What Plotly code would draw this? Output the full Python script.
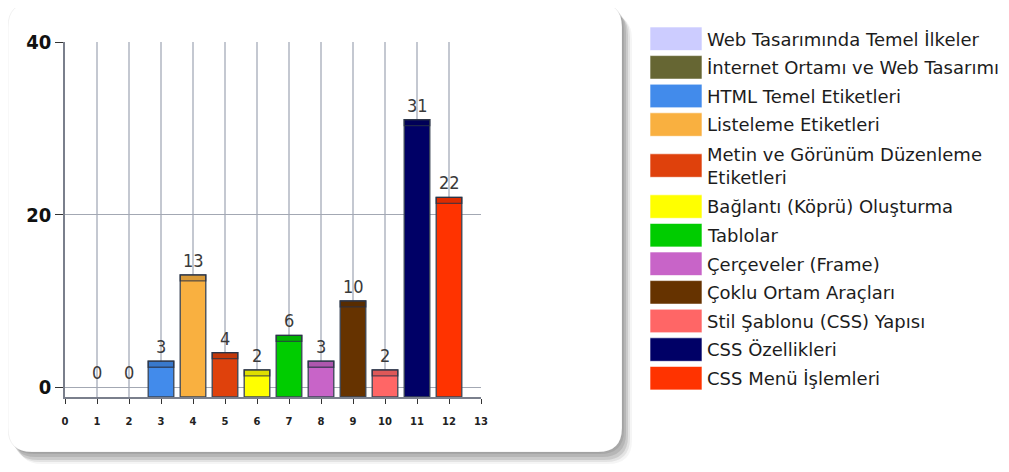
import plotly.graph_objects as go

# Konu başlıkları ve soru sayıları
konular = [
    "Web Tasarımında Temel İlkeler",
    "İnternet Ortamı ve Web Tasarımı",
    "HTML Temel Etiketleri",
    "Listeleme Etiketleri",
    "Metin ve Görünüm Düzenleme<br>Etiketleri",
    "Bağlantı (Köprü) Oluşturma",
    "Tablolar",
    "Çerçeveler (Frame)",
    "Çoklu Ortam Araçları",
    "Stil Şablonu (CSS) Yapısı",
    "CSS Özellikleri",
    "CSS Menü İşlemleri",
]
sira = [1, 2, 3, 4, 5, 6, 7, 8, 9, 10, 11, 12]
sayilar = [0, 0, 3, 13, 4, 2, 6, 3, 10, 2, 31, 22]
renkler = [
    "#CCCCFF", "#666633", "#428BEB", "#F9B040", "#DF410C", "#FFFF00",
    "#00CC00", "#C864C8", "#663300", "#FF6666", "#000066", "#FF3300",
]
x_ticks = list(range(0, 14))
y_ticks = [0, 20, 40]

Y_MIN, Y_MAX = -1.15, 40
BANT = 0.7  # ust seridin yuksekligi (eksen birimi)

# sayfa kenar boslugu (body margin) icin duzeltme
OFS = 8
W, H = 1009, 472
# cizim alani, sayfa pikselleri
L, R, T, B = 65, 481, 42, 397


def px(x):
    return (x - L) / (R - L)


def py(y):
    return (B - y) / (B - T)


def rounded(x0, y0, x1, y1, r):
    # piksel koordinatlarindan yuvarlak koseli dikdortgen yolu (paper)
    pts = [
        f"M{px(x0 + r)},{py(y0)}",
        f"L{px(x1 - r)},{py(y0)}",
        f"Q{px(x1)},{py(y0)} {px(x1)},{py(y0 + r)}",
        f"L{px(x1)},{py(y1 - r)}",
        f"Q{px(x1)},{py(y1)} {px(x1 - r)},{py(y1)}",
        f"L{px(x0 + r)},{py(y1)}",
        f"Q{px(x0)},{py(y1)} {px(x0)},{py(y1 - r)}",
        f"L{px(x0)},{py(y0 + r)}",
        f"Q{px(x0)},{py(y0)} {px(x0 + r)},{py(y0)}",
        "Z",
    ]
    return " ".join(pts)


fig = go.Figure()

# ana cubuklar: cizim alaninin altindan baslar
fig.add_trace(go.Bar(
    x=sira,
    y=[v - Y_MIN if v > 0 else None for v in sayilar],
    base=Y_MIN,
    width=0.8,
    marker=dict(color=renkler, line=dict(color="#3b4656", width=1.3)),
    showlegend=False,
    hoverinfo="skip",
))

# ust kisimdaki koyu serit
fig.add_trace(go.Bar(
    x=sira,
    y=[BANT if v > 0 else None for v in sayilar],
    base=[v - BANT for v in sayilar],
    width=0.8,
    marker=dict(color="rgba(0,0,0,0.13)", line=dict(color="rgba(40,50,70,0.75)", width=1.3)),
    showlegend=False,
    hoverinfo="skip",
))

annotations = []
# deger etiketleri
for xi, v in zip(sira, sayilar):
    annotations.append(dict(
        x=xi, y=v, text=str(v), showarrow=False, yanchor="bottom", yshift=2,
        font=dict(family="DejaVu Sans Condensed, Liberation Sans Narrow, sans-serif",
                  size=18, color="#3a3a3a"),
    ))

shapes = []
# kart golgesi ve kart
for dx, dy, op in [(10, 12, 0.04), (8, 10, 0.07), (6, 8, 0.10), (4, 5, 0.10), (2, 2, 0.08)]:
    shapes.append(dict(type="path", xref="paper", yref="paper", layer="below",
                       path=rounded(8 + dx, 3 + dy, 622 + dx, 452 + dy, 24),
                       fillcolor=f"rgba(0,0,0,{op})", line=dict(width=0)))
shapes.append(dict(type="path", xref="paper", yref="paper", layer="below",
                   path=rounded(8, 3, 622, 452, 24),
                   fillcolor="white", line=dict(color="rgba(0,0,0,0.06)", width=1)))

# lejant: renk kutulari ve yazilar
y_top = 27
for ad, renk in zip(konular, renkler):
    iki_satir = "<br>" in ad
    if iki_satir:
        y_top += 12.4
    shapes.append(dict(type="rect", xref="paper", yref="paper", layer="below",
                       x0=px(650), x1=px(702), y0=py(y_top), y1=py(y_top + 23.5),
                       fillcolor=renk, line=dict(color="rgba(255,255,255,0.6)", width=1)))
    annotations.append(dict(xref="paper", yref="paper", x=px(705), y=py(y_top + 12),
                            text=ad, showarrow=False, xanchor="left", yanchor="middle",
                            align="left",
                            font=dict(family="DejaVu Sans, Verdana, sans-serif",
                                      size=18, color="#1c1c1c")))
    y_top += 28.6 + (12.4 if iki_satir else 0)

fig.update_layout(
    width=W,
    height=H,
    margin=dict(l=L - OFS, r=W - R + OFS, t=T - OFS, b=H - B + OFS),
    paper_bgcolor="white",
    plot_bgcolor="#E6ECF7",
    barmode="overlay",
    shapes=shapes,
    annotations=annotations,
    xaxis=dict(
        range=[0, 13],
        tickvals=x_ticks,
        ticks="outside",
        ticklen=5,
        tickcolor="#333",
        ticklabelstandoff=9,
        showgrid=True,
        gridcolor="#C4C8D1",
        gridwidth=1.5,
        showline=True,
        linecolor="#7a7f8c",
        linewidth=1.5,
        zeroline=False,
        automargin=False,
        tickfont=dict(family="DejaVu Sans, sans-serif", size=10, color="#222", weight="bold"),
        fixedrange=True,
    ),
    yaxis=dict(
        range=[Y_MIN, Y_MAX],
        tickvals=y_ticks,
        ticks="outside",
        ticklen=8,
        tickcolor="#333",
        showgrid=True,
        gridcolor="#A3A8B3",
        gridwidth=1.2,
        showline=True,
        linecolor="#7a7f8c",
        linewidth=1.5,
        zeroline=False,
        automargin=False,
        tickfont=dict(family="DejaVu Sans Condensed, Liberation Sans Narrow, sans-serif",
                      size=20, color="#111", weight=600),
        fixedrange=True,
    ),
)

fig.write_html("out.html")
